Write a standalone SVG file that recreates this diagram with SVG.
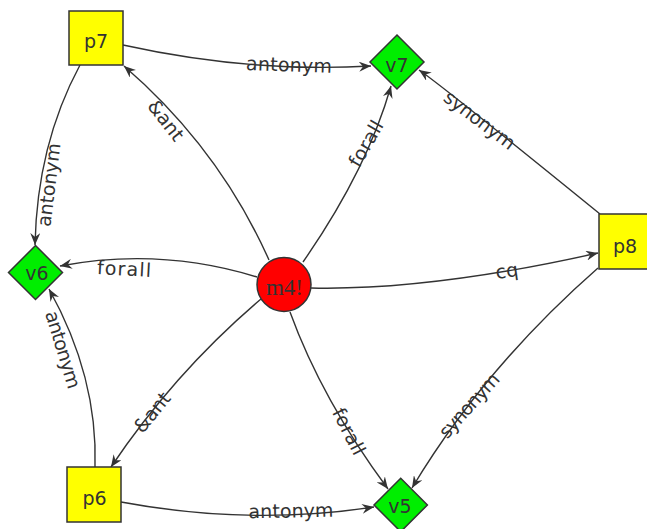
<svg xmlns="http://www.w3.org/2000/svg" width="647" height="529" viewBox="0 0 647 529">
<style>
.edge{fill:none;stroke:#333;stroke-width:1.4;marker-end:url(#arr)}
.lbl{font-family:"DejaVu Sans",sans-serif;font-size:19px;fill:#333;text-anchor:middle}
.box{fill:#ffff00;stroke:#333;stroke-width:1.5}
.dia{fill:#00ee00;stroke:#333;stroke-width:1.5}
.ntxt{font-family:"DejaVu Sans",sans-serif;font-size:19px;fill:#333;text-anchor:middle}
</style>
<defs>
<marker id="arr" viewBox="0 0 12 10" refX="12" refY="5" markerWidth="12" markerHeight="10" markerUnits="userSpaceOnUse" orient="auto">
<path d="M0,0 L12,5 L0,10 L4,5 Z" fill="#333"/>
</marker>
</defs>
<rect width="647" height="529" fill="#fff"/>
<g id="connectors">
<path class="edge" d="M123,45 Q250,73 371,66"/>
<path class="edge" d="M269,260 Q219,148 124,66"/>
<path class="edge" d="M80,65 Q37,145 35,245"/>
<path class="edge" d="M257,277 Q160,247 60,266"/>
<path class="edge" d="M95,467 Q98,377 49,289"/>
<path class="edge" d="M261,299 Q175,372 111,467"/>
<path class="edge" d="M121,502 Q250,526 374,507"/>
<path class="edge" d="M290,312 Q322,400 388,489"/>
<path class="edge" d="M303,262 Q367,170 391,86"/>
<path class="edge" d="M600,214 Q440,84 419,70"/>
<path class="edge" d="M311,288 C400,290 500,275 598,253"/>
<path class="edge" d="M598,268 Q484,368 412,488"/>
<text class="lbl" transform="translate(289,66) rotate(2)" y="5.5" textLength="86" lengthAdjust="spacing">antonym</text>
<text class="lbl" transform="translate(165,121) rotate(52)" y="5.5">&amp;ant</text>
<text class="lbl" transform="translate(50,185) rotate(-83)" y="5.5" textLength="84" lengthAdjust="spacing">antonym</text>
<text class="lbl" transform="translate(124,270) rotate(3)" y="5.5" textLength="54" lengthAdjust="spacing">forall</text>
<text class="lbl" transform="translate(62,350) rotate(73)" y="5.5" textLength="80" lengthAdjust="spacing">antonym</text>
<text class="lbl" transform="translate(153,413) rotate(-51)" y="5.5">&amp;ant</text>
<text class="lbl" transform="translate(291,512) rotate(-1)" y="5.5" textLength="85" lengthAdjust="spacing">antonym</text>
<text class="lbl" transform="translate(348,432) rotate(63)" y="5.5" textLength="50" lengthAdjust="spacing">forall</text>
<text class="lbl" transform="translate(367,144) rotate(-60)" y="5.5" textLength="50" lengthAdjust="spacing">forall</text>
<text class="lbl" transform="translate(479,121) rotate(37)" y="5.5" textLength="84" lengthAdjust="spacing">synonym</text>
<text class="lbl" transform="translate(507,272) rotate(-8)" y="5.5">cq</text>
<text class="lbl" transform="translate(470,406) rotate(-48)" y="5.5" textLength="80" lengthAdjust="spacing">synonym</text>
</g>
<g id="p7"><rect class="box" x="69" y="11" width="54" height="54"/><text class="ntxt" x="96" y="48">p7</text></g>
<g id="v7"><polygon class="dia" points="397,35 424,62 397,89 370,62"/><text class="ntxt" x="397" y="72">v7</text></g>
<g id="p8"><rect class="box" x="599" y="214" width="54" height="55"/><text class="ntxt" x="625" y="253">p8</text></g>
<g id="v6"><polygon class="dia" points="35.5,245.5 62.5,272.5 35.5,299.5 8.5,272.5"/><text class="ntxt" x="37" y="280">v6</text></g>
<g id="m4"><circle cx="284" cy="284.5" r="27" fill="#ff0000" stroke="#333" stroke-width="1.5"/><text x="284.5" y="295" font-family="Liberation Serif, serif" font-size="23" fill="#333" text-anchor="middle" textLength="37" lengthAdjust="spacing">m4!</text></g>
<g id="p6"><rect class="box" x="67" y="467" width="54" height="55"/><text class="ntxt" x="94.5" y="505">p6</text></g>
<g id="v5"><polygon class="dia" points="400.7,478.3 427.4,505 400.7,531.7 374,505"/><text class="ntxt" x="400" y="513">v5</text></g>
</svg>
